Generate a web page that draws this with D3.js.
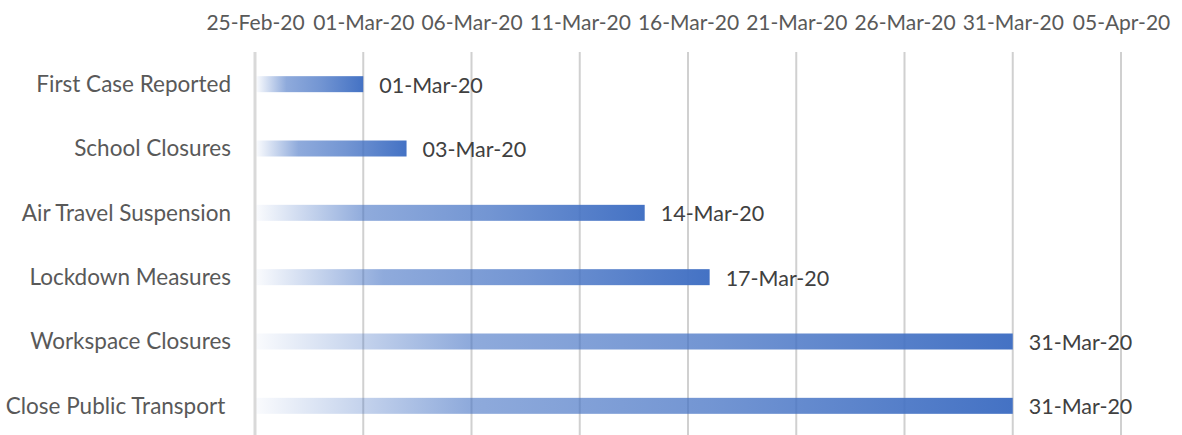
<!DOCTYPE html>
<html><head><meta charset="utf-8">
<script src="https://cdn.jsdelivr.net/npm/d3@7"></script>
<style>body{margin:0;background:#fff}svg{display:block}</style>
</head><body>
<script>
const categories = ["First Case Reported","School Closures","Air Travel Suspension","Lockdown Measures","Workspace Closures","Close Public Transport "];
const endDates = ["2020-03-01","2020-03-03","2020-03-14","2020-03-17","2020-03-31","2020-03-31"];
const tickDates = ["2020-02-25","2020-03-01","2020-03-06","2020-03-11","2020-03-16","2020-03-21","2020-03-26","2020-03-31","2020-04-05"];

const W = 1182, H = 435;
const parse = d3.utcParse("%Y-%m-%d");
const fmt = d3.utcFormat("%d-%b-%y");
const ticks = tickDates.map(parse);
const ends = endDates.map(parse);

const svg = d3.select("body").append("svg").attr("width", W).attr("height", H);
const x = d3.scaleUtc().domain([ticks[0], ticks[ticks.length-1]]).range([255, 1121]);
const y = d3.scaleBand().domain(categories).range([52, 438]);

const defs = svg.append("defs");
const grad = defs.append("linearGradient").attr("id","g").attr("x1","0%").attr("x2","100%");
grad.append("stop").attr("offset","0%").attr("stop-color","#4472C4").attr("stop-opacity",0.03);
grad.append("stop").attr("offset","28%").attr("stop-color","#4472C4").attr("stop-opacity",0.6);
grad.append("stop").attr("offset","60%").attr("stop-color","#4472C4").attr("stop-opacity",0.75);
grad.append("stop").attr("offset","100%").attr("stop-color","#4472C4").attr("stop-opacity",1);

const font = "Lato, 'Carlito', Calibri, sans-serif";

// gridlines
svg.append("g").selectAll("line").data(ticks.slice(1)).join("line")
  .attr("x1", d => x(d)).attr("x2", d => x(d)).attr("y1", 52).attr("y2", H)
  .attr("stroke", "#d0d0d0").attr("stroke-width", 2);
// left axis line
svg.append("line").attr("x1", x(ticks[0])).attr("x2", x(ticks[0])).attr("y1", 52).attr("y2", H)
  .attr("stroke", "#d9d9d9").attr("stroke-width", 3);

// top tick labels
const xAxis = d3.axisTop(x).tickValues(ticks).tickFormat(fmt).tickSize(0).tickPadding(0);
const ax = svg.append("g").attr("transform", "translate(0,30)").call(xAxis);
ax.select(".domain").remove();
ax.selectAll("text").attr("font-family", font).attr("font-size", 21).attr("fill", "#595959");

// bars
const bh = 16;
svg.append("g").selectAll("rect").data(categories).join("rect")
  .attr("x", x(ticks[0]) + 1.5)
  .attr("y", d => y(d) + y.bandwidth()/2 - bh/2)
  .attr("width", (d,i) => x(ends[i]) - x(ticks[0]) - 1.5)
  .attr("height", bh)
  .attr("fill", "url(#g)");

// category labels
svg.append("g").selectAll("text").data(categories).join("text")
  .attr("x", 231).attr("y", d => y(d) + y.bandwidth()/2)
  .attr("dy", "0.35em").attr("text-anchor", "end")
  .style("white-space", "pre")
  .attr("font-family", font).attr("font-size", 22.5).attr("fill", "#595959")
  .text(d => d);

// data labels
svg.append("g").selectAll("text").data(categories).join("text")
  .attr("x", (d,i) => x(ends[i]) + 16).attr("y", d => y(d) + y.bandwidth()/2 + 1)
  .attr("dy", "0.35em")
  .attr("font-family", font).attr("font-size", 21.5).attr("fill", "#404040")
  .text((d,i) => fmt(ends[i]));
</script>
</body></html>
